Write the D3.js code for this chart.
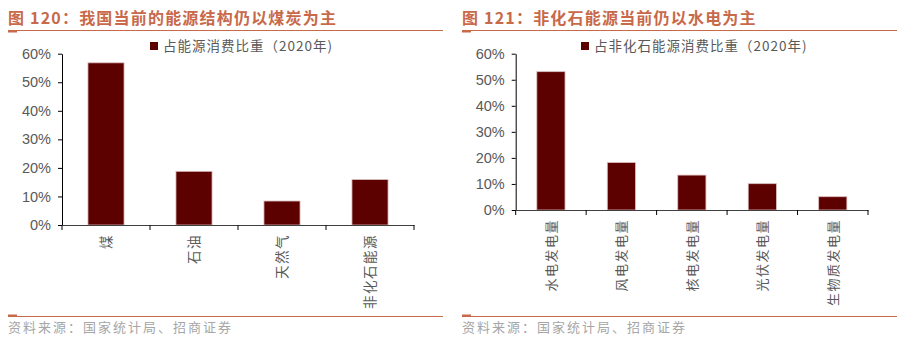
<!DOCTYPE html>
<html><head><meta charset="utf-8">
<script src="https://cdn.jsdelivr.net/npm/d3@7"></script>
<style>
body{margin:0;background:#fff;}
svg{display:block;font-family:"Liberation Sans","Noto Sans CJK SC",sans-serif;}
</style></head>
<body><svg id="c" width="904" height="344"></svg>
<script>
const titles = ["图 120：我国当前的能源结构仍以煤炭为主", "图 121：非化石能源当前仍以水电为主"];
const legends = ["占能源消费比重（2020年)", "占非化石能源消费比重（2020年)"];
const source = "资料来源：国家统计局、招商证券";
const cats1 = ["煤", "石油", "天然气", "非化石能源"];
const vals1 = [0.568, 0.188, 0.084, 0.159];
const cats2 = ["水电发电量", "风电发电量", "核电发电量", "光伏发电量", "生物质发电量"];
const vals2 = [0.531, 0.182, 0.134, 0.101, 0.051];
const yTicks = [0, 0.1, 0.2, 0.3, 0.4, 0.5, 0.6];

const svg = d3.select("#c");
const accent = "#c8694a", barCol = "#5c0000", txt = "#595959";
const cjk = '"Noto Sans CJK SC",sans-serif';

function panel(ox, title, legend, cats, vals, cfg) {
  const g = svg.append("g").attr("transform", `translate(${ox},0)`);
  g.append("text").attr("x", 8).attr("y", 23.5).text(title)
    .attr("fill", accent).attr("font-weight", "bold").attr("font-size", 16)
    .style("font-family", cjk).style("letter-spacing", "1.2px");
  g.append("line").attr("x1", 8).attr("x2", 443).attr("y1", 30.5).attr("y2", 30.5)
    .attr("stroke", accent).attr("stroke-width", 1);
  g.append("rect").attr("x", 8).attr("y", 30).attr("width", 9).attr("height", 2.5).attr("fill", accent);
  g.append("line").attr("x1", 8).attr("x2", 443).attr("y1", 316.5).attr("y2", 316.5)
    .attr("stroke", accent).attr("stroke-width", 1);
  g.append("rect").attr("x", 8).attr("y", 314.5).attr("width", 9).attr("height", 2).attr("fill", accent);
  g.append("text").attr("x", 8).attr("y", 332).text(source)
    .attr("fill", "#a6a6a6").attr("font-size", 13).style("font-family", cjk).style("letter-spacing", "2px");

  const x = d3.scaleBand().domain(cats).range([cfg.x0, cfg.x1]).paddingInner(cfg.pad).paddingOuter(cfg.pad / 2);
  const y = d3.scaleLinear().domain([0, 0.6]).range([cfg.yb, cfg.yt]);

  const ya = g.append("g").attr("transform", `translate(${cfg.x0},0)`)
    .call(d3.axisLeft(y).tickValues(yTicks).tickFormat(d3.format(".0%")).tickSize(4).tickSizeOuter(0));
  ya.select(".domain").attr("stroke", "#000");
  ya.selectAll(".tick line").attr("stroke", "#000");
  ya.selectAll(".tick text").attr("fill", txt).attr("font-size", 14.5).attr("x", -11)
    .style("font-family", '"Liberation Sans",sans-serif');

  g.selectAll(".bar").data(vals).enter().append("rect")
    .attr("x", (d, i) => x(cats[i])).attr("width", x.bandwidth())
    .attr("y", d => y(d)).attr("height", d => y(0) - y(d))
    .attr("fill", barCol).attr("stroke", "#dcbcbc").attr("stroke-width", 0.8);

  const xa = g.append("g").attr("transform", `translate(0,${cfg.yb})`)
    .call(d3.axisBottom(x).tickSize(0).tickSizeOuter(0));
  xa.select(".domain").attr("stroke", "#404040");
  xa.selectAll(".tick text").remove();
  const bounds = d3.range(cats.length + 1).map(i => cfg.x0 + i * (cfg.x1 - cfg.x0) / cats.length);
  g.selectAll(".bt").data(bounds).enter().append("line")
    .attr("x1", d => d).attr("x2", d => d).attr("y1", cfg.yb).attr("y2", cfg.yb + 5)
    .attr("stroke", "#000");
  g.selectAll(".xl").data(cats).enter().append("text")
    .attr("transform", d => `translate(${x(d) + x.bandwidth() / 2 + 5},${cfg.yb + 9}) rotate(-90)`)
    .attr("text-anchor", "end").text(d => d)
    .attr("fill", txt).attr("font-size", cfg.lf).style("letter-spacing", cfg.ls + "px").style("font-family", cjk);

  g.append("rect").attr("x", cfg.lx).attr("y", 42).attr("width", 8).attr("height", 8).attr("fill", barCol);
  g.append("text").attr("x", cfg.lx + 13).attr("y", 50.5).text(legend)
    .attr("fill", txt).attr("font-size", 13.5).style("letter-spacing", "1px").style("font-family", cjk);
}

panel(0, titles[0], legends[0], cats1, vals1, {x0: 62, x1: 414, yt: 53.7, yb: 225, pad: 0.59, lx: 150, lf: 13.5, ls: 1.5});
panel(454, titles[1], legends[1], cats2, vals2, {x0: 61.7, x1: 414, yt: 53.7, yb: 210, pad: 0.6, lx: 127, lf: 13, ls: 1.5});
</script></body></html>
